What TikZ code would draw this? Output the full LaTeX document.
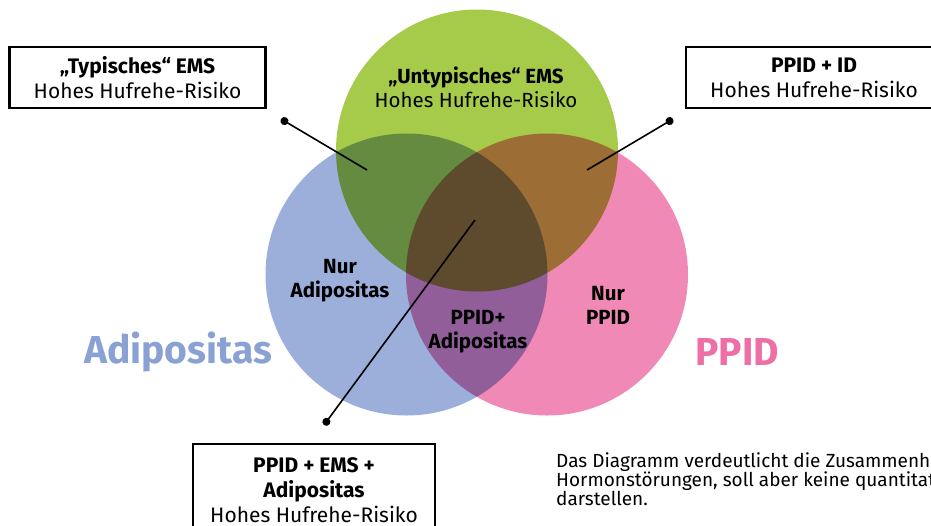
\documentclass[tikz,border=0pt]{standalone}
\usepackage{fontspec}
\setmainfont{Fira Sans}
\usetikzlibrary{arrows.meta}
\definecolor{adipoblue}{HTML}{9BAFDA}
\definecolor{emsgreen}{HTML}{A6CB4B}
\definecolor{ppidpink}{HTML}{F089B5}
\definecolor{adipotext}{HTML}{8AA2D3}
\definecolor{ppidtext}{HTML}{EE6FA6}
\tikzset{
  setcircle/.style={fill=#1, blend mode=multiply},
  infobox/.style={draw, line width=2.5pt, align=center, inner sep=0pt,
    font=\fontsize{21}{25}\selectfont},
  region/.style={align=center, font=\bfseries\fontsize{20.5}{24}\selectfont},
  bigname/.style={font=\bfseries\fontsize{39}{42}\selectfont},
  pointer/.style={line width=1.6pt, {Circle[length=8pt]}-}
}
\begin{document}
\begin{tikzpicture}[x=1pt,y=-1pt]
  \useasboundingbox (0,0) rectangle (931,525);
  % the three sets
  \fill[setcircle=emsgreen] (477,150.5) circle (141pt);
  \fill[setcircle=adipoblue] (406.5,274.5) circle (141pt);
  \fill[setcircle=ppidpink] (547,274.5) circle (141pt);
  % texts inside
  \node[region] (untyp) at (476,87) {„Untypisches“ EMS\\\mdseries Hohes Hufrehe-Risiko};
  \node[region] (nuradipo) at (340,281) {Nur\\Adipositas};
  \node[region] (ppidadipo) at (478,332) {PPID+\\Adipositas};
  \node[region] (nurppid) at (608,305) {Nur\\PPID};
  \node[bigname, text=adipotext] (adipo) at (178,352) {Adipositas};
  \node[bigname, text=ppidtext] (ppid) at (737,352) {PPID};
  % boxes
  \node[infobox, minimum width=256pt, minimum height=61pt] (typ) at (137.5,77.5)
    {\bfseries „Typisches“ EMS\\Hohes Hufrehe-Risiko};
  \node[infobox, minimum width=256pt, minimum height=61pt] (ppidid) at (814,77.5)
    {\bfseries PPID + ID\\Hohes Hufrehe-Risiko};
  \node[infobox, minimum width=242pt, minimum height=92pt] (all) at (314,490)
    {\bfseries PPID + EMS +\\\bfseries Adipositas\\Hohes Hufrehe-Risiko};
  % pointers
  \coordinate (dottyp) at (281,119);
  \coordinate (tiptyp) at (367,170);
  \coordinate (dotid) at (673,119);
  \coordinate (tipid) at (587,170);
  \coordinate (dotall) at (324,425);
  \coordinate (tipall) at (475,220);
  \draw[pointer] (dottyp) -- (tiptyp);
  \draw[pointer] (dotid) -- (tipid);
  \draw[pointer] (dotall) -- (tipall);
  % note
  \node[anchor=north west, align=left, inner sep=0pt,
    font=\fontsize{19}{18.5}\selectfont] (note) at (556,452)
    {Das Diagramm verdeutlicht die Zusammenhänge\\Hormonstörungen, soll aber keine quantitativen\\darstellen.};
\end{tikzpicture}
\end{document}
